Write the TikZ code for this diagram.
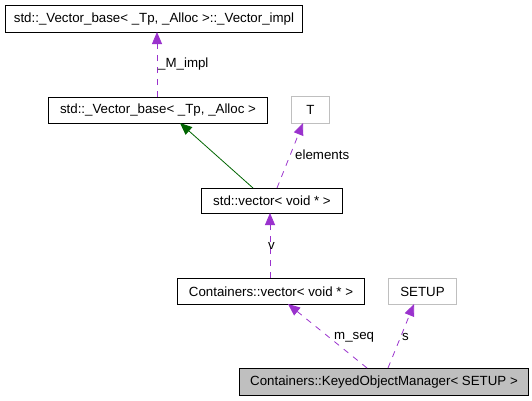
\documentclass[tikz,border=0pt]{standalone}
\usepackage{fontspec}
\setmainfont{Liberation Sans}
\usetikzlibrary{arrows.meta}
\definecolor{edgepurple}{HTML}{9A32CD}
\definecolor{edgegreen}{HTML}{006400}
\definecolor{boxgray}{HTML}{BFBFBF}
\begin{document}
\begin{tikzpicture}[x=1pt,y=-1pt,
  every node/.style={font=\fontsize{13.3}{15}\selectfont},
  cls/.style={draw=black,line width=1pt,inner sep=0pt,anchor=north west},
  ext/.style={draw=boxgray,line width=1pt,inner sep=0pt,anchor=north west},
  usage/.style={draw=edgepurple,line width=0.8pt,dash pattern=on 6pt off 6pt,-{Triangle[length=12pt,width=10pt]}},
  inherit/.style={draw=edgegreen,line width=0.8pt,-{Triangle[length=12pt,width=10pt]}},
  lbl/.style={anchor=west,inner sep=0pt}]
\useasboundingbox (0,0) rectangle (532,400);
\node[cls,minimum width=297pt,minimum height=27pt] (impl) at (5,5) {std::\_Vector\_base< \_Tp, \_Alloc >::\_Vector\_impl};
\node[cls,minimum width=219pt,minimum height=26pt] (base) at (48,97) {std::\_Vector\_base< \_Tp, \_Alloc >};
\node[ext,minimum width=38pt,minimum height=27pt] (T) at (291,96) {T};
\node[cls,minimum width=141pt,minimum height=25pt] (stdvec) at (201,188) {std::vector< void * >};
\node[cls,minimum width=187pt,minimum height=26pt] (cvec) at (177,278) {Containers::vector< void * >};
\node[ext,minimum width=68pt,minimum height=26pt] (setup) at (388,278) {SETUP};
\node[cls,fill=boxgray,minimum width=289pt,minimum height=27pt] (kom) at (239,368) {Containers::KeyedObjectManager< SETUP >};
\coordinate (a1) at (157,97);
\coordinate (a2) at (157,32);
\draw[usage] (a1) -- (a2);
\node[lbl] (l1) at (158,64) {\_M\_impl};
\coordinate (b1) at (253,188);
\coordinate (b2) at (180,123);
\draw[inherit] (b1) -- (b2);
\coordinate (c1) at (277,188);
\coordinate (c2) at (303,123);
\draw[usage] (c1) -- (c2);
\node[lbl] (l2) at (295,155) {elements};
\coordinate (d1) at (270,278);
\coordinate (d2) at (270,213);
\draw[usage] (d1) -- (d2);
\node[lbl] (l3) at (268,246) {v};
\coordinate (e1) at (367,368);
\coordinate (e2) at (288,304);
\draw[usage] (e1) -- (e2);
\node[lbl] (l4) at (334,337) {m\_seq};
\coordinate (f1) at (388,368);
\coordinate (f2) at (414,304);
\draw[usage] (f1) -- (f2);
\node[lbl] (l5) at (402,337) {s};
\end{tikzpicture}
\end{document}
